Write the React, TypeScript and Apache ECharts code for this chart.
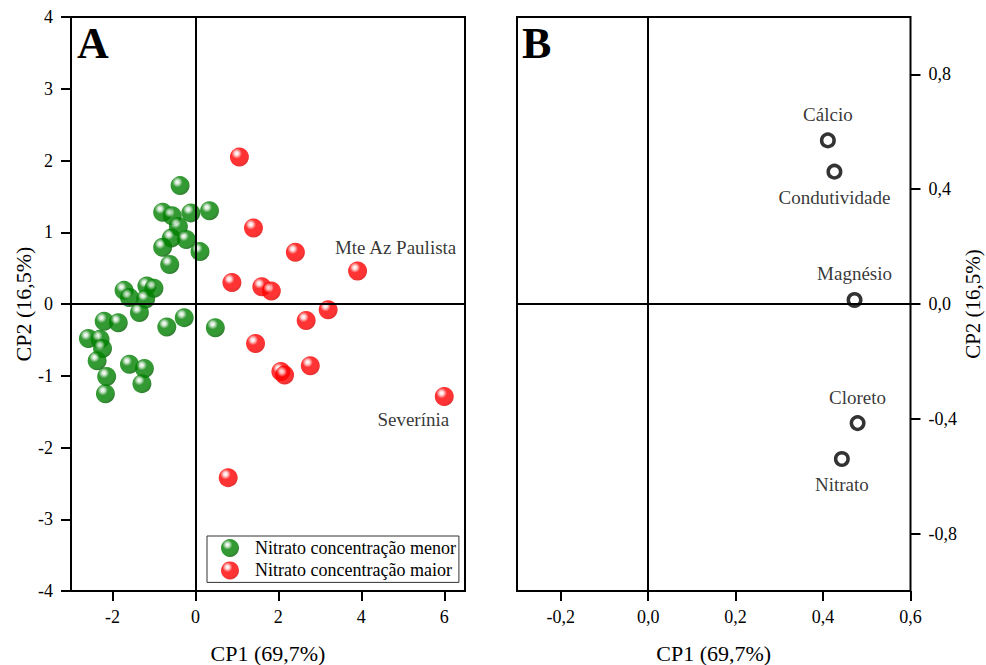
import React, { useEffect, useRef } from 'react';
import * as echarts from 'echarts';

// ---- Data ----
const greenX = [-0.37, -0.79, -0.56, -0.11, 0.34, -0.41, -0.58, -0.22, -0.79, 0.11, -0.62, -1.72, -1.59, -1.17, -1.0, -1.20, -1.35, -2.20, -1.86, -0.69, -0.27, 0.48, -2.58, -2.30, -2.24, -2.37, -1.59, -1.23, -2.14, -1.29, -2.17];
const greenY = [1.65, 1.28, 1.23, 1.27, 1.30, 1.08, 0.92, 0.90, 0.79, 0.73, 0.55, 0.19, 0.09, 0.25, 0.22, 0.07, -0.12, -0.24, -0.26, -0.32, -0.19, -0.33, -0.48, -0.49, -0.62, -0.79, -0.84, -0.90, -1.01, -1.11, -1.25];

const redX = [1.06, 0.88, 1.40, 2.41, 3.91, 1.60, 1.83, 3.20, 2.67, 1.45, 2.06, 2.15, 2.77, 6.0, 0.79];
const redY = [2.05, 0.30, 1.06, 0.72, 0.46, 0.24, 0.18, -0.08, -0.23, -0.55, -0.94, -0.99, -0.86, -1.29, -2.42];
const redNames = ['', '', '', '', 'Mte Az Paulista', '', '', '', '', '', '', '', '', 'Severínia', ''];

const loadNames = ['Cálcio', 'Condutividade', 'Magnésio', 'Cloreto', 'Nitrato'];
const loadX = [0.411, 0.426, 0.472, 0.479, 0.443];
const loadY = [0.570, 0.461, 0.014, -0.415, -0.540];
const loadLabelPos = ['top', 'bottom', 'top', 'top', 'bottom'];

const leftXTicks = [-2, 0, 2, 4, 6];
const leftYTicks = [-4, -3, -2, -1, 0, 1, 2, 3, 4];
const rightXTicks = [-0.2, 0, 0.2, 0.4, 0.6];
const rightYTicks = [-0.8, -0.4, 0, 0.4, 0.8];

const seriesNames = ['Nitrato concentração menor', 'Nitrato concentração maior'];
const axisTitleX = 'CP1 (69,7%)';
const axisTitleY = 'CP2 (16,5%)';

const FONT = '"Liberation Serif", "Times New Roman", serif';

const fmtComma = (v: number) => {
  const r = Math.round(v * 10) / 10;
  return (Math.abs(r) < 1e-9 ? 0 : r).toFixed(1).replace('.', ',');
};

function ball(main: string, dark: string, light: string) {
  return new echarts.graphic.RadialGradient(0.36, 0.32, 0.72, [
    { offset: 0, color: '#ffffff' },
    { offset: 0.14, color: light },
    { offset: 0.38, color: main },
    { offset: 0.78, color: main },
    { offset: 1, color: dark },
  ]);
}

const tickStyle = { length: 10, lineStyle: { color: '#000', width: 2 } };
const labelStyle = { color: '#000', fontSize: 18, fontFamily: FONT };
const nameStyle = { color: '#000', fontSize: 22, fontFamily: FONT };

export default function App() {
  const ref = useRef<HTMLDivElement>(null);
  useEffect(() => {
    if (!ref.current) return;
    const chart = echarts.init(ref.current, undefined, { renderer: 'svg' });
    const greenColor = ball('#008000', '#005800', '#cfe6cf');
    const redColor = ball('#ff0000', '#d40000', '#ffd6d6');

    const option: any = {
      animation: false,
      backgroundColor: '#fff',
      textStyle: { fontFamily: FONT },
      grid: [
        { left: 71, top: 17, width: 394, height: 574, show: true, borderColor: '#000', borderWidth: 2, backgroundColor: 'transparent', containLabel: false, outerBoundsMode: 'none' },
        { left: 517, top: 17, width: 393.5, height: 574, show: true, borderColor: '#000', borderWidth: 2, backgroundColor: 'transparent', containLabel: false, outerBoundsMode: 'none' },
      ],
      xAxis: [
        {
          gridIndex: 0, type: 'value', min: -3, max: 6.5,
          axisLine: { show: false, onZero: false }, splitLine: { show: false },
          axisTick: { ...tickStyle, customValues: leftXTicks },
          axisLabel: { ...labelStyle, margin: 17, customValues: leftXTicks, formatter: (v: number) => String(v) },
          name: axisTitleX, nameLocation: 'middle', nameGap: 51, nameTextStyle: nameStyle,
        },
        {
          gridIndex: 1, type: 'value', min: -0.3, max: 0.6,
          axisLine: { show: false, onZero: false }, splitLine: { show: false },
          axisTick: { ...tickStyle, customValues: rightXTicks },
          axisLabel: { ...labelStyle, margin: 17, customValues: rightXTicks, formatter: fmtComma },
          name: axisTitleX, nameLocation: 'middle', nameGap: 51, nameTextStyle: nameStyle,
        },
      ],
      yAxis: [
        {
          gridIndex: 0, type: 'value', min: -4, max: 4,
          axisLine: { show: false, onZero: false }, splitLine: { show: false },
          axisTick: { ...tickStyle, customValues: leftYTicks },
          axisLabel: { ...labelStyle, margin: 18, customValues: leftYTicks, formatter: (v: number) => String(v) },
          name: axisTitleY, nameLocation: 'middle', nameGap: 37, nameTextStyle: nameStyle,
        },
        {
          gridIndex: 1, type: 'value', min: -1, max: 1, position: 'right',
          axisLine: { show: false, onZero: false }, splitLine: { show: false },
          axisTick: { ...tickStyle, customValues: rightYTicks },
          axisLabel: { ...labelStyle, margin: 18, customValues: rightYTicks, formatter: fmtComma },
          name: axisTitleY, nameLocation: 'middle', nameGap: 52, nameTextStyle: { ...nameStyle, fontSize: 21 },
        },
      ],
      legend: {
        orient: 'vertical', left: 207, top: 536,
        data: seriesNames,
        icon: 'circle', itemWidth: 18, itemHeight: 18, itemGap: 4.4,
        padding: [3, 3, 3, 14],
        borderColor: '#333', borderWidth: 1, backgroundColor: '#fff',
        textStyle: { color: '#000', fontSize: 18, fontFamily: FONT, padding: [0, 0, 0, 11] },
      },
      graphic: [
        { type: 'text', left: 77, top: 21, z: 100, style: { text: 'A', font: `bold 44px ${FONT}`, fill: '#000' } },
        { type: 'text', left: 522, top: 21, z: 100, style: { text: 'B', font: `bold 44px ${FONT}`, fill: '#000' } },
      ],
      series: [
        {
          name: seriesNames[0], type: 'scatter', xAxisIndex: 0, yAxisIndex: 0,
          symbolSize: 19,
          itemStyle: { color: greenColor },
          data: greenX.map((x, i) => [x, greenY[i]]),
          markLine: {
            silent: true, symbol: 'none', animation: false,
            label: { show: false },
            lineStyle: { color: '#000', width: 2, type: 'solid' },
            data: [{ xAxis: 0 }, { yAxis: 0 }],
          },
          z: 3,
        },
        {
          name: seriesNames[1], type: 'scatter', xAxisIndex: 0, yAxisIndex: 0,
          symbolSize: 19,
          itemStyle: { color: redColor },
          data: redX.map((x, i) => {
            const item: any = { value: [x, redY[i]] };
            if (redNames[i]) {
              const isTop = redNames[i] === 'Mte Az Paulista';
              item.label = {
                show: true, formatter: redNames[i],
                position: isTop ? 'top' : 'bottom', distance: 4,
                offset: isTop ? [38, 0] : [-31, 0],
                color: '#000', fontSize: 19, fontFamily: FONT,
              };
            }
            return item;
          }),
          z: 3,
        },
        {
          name: 'loadings', type: 'scatter', xAxisIndex: 1, yAxisIndex: 1,
          symbolSize: 12.5,
          itemStyle: { color: '#fff', borderColor: '#000', borderWidth: 3.5 },
          data: loadX.map((x, i) => ({
            value: [x, loadY[i]],
            label: {
              show: true, formatter: loadNames[i], position: loadLabelPos[i], distance: 8.5,
              color: '#000', fontSize: 19, fontFamily: FONT,
            },
          })),
          markLine: {
            silent: true, symbol: 'none', animation: false,
            label: { show: false },
            lineStyle: { color: '#000', width: 2, type: 'solid' },
            data: [{ xAxis: 0 }, { yAxis: 0 }],
          },
          z: 3,
        },
      ],
    };
    chart.setOption(option);
    return () => chart.dispose();
  }, []);
  return <div ref={ref} style={{ position: 'fixed', left: 0, top: 0, width: 986, height: 665 }} />;
}
